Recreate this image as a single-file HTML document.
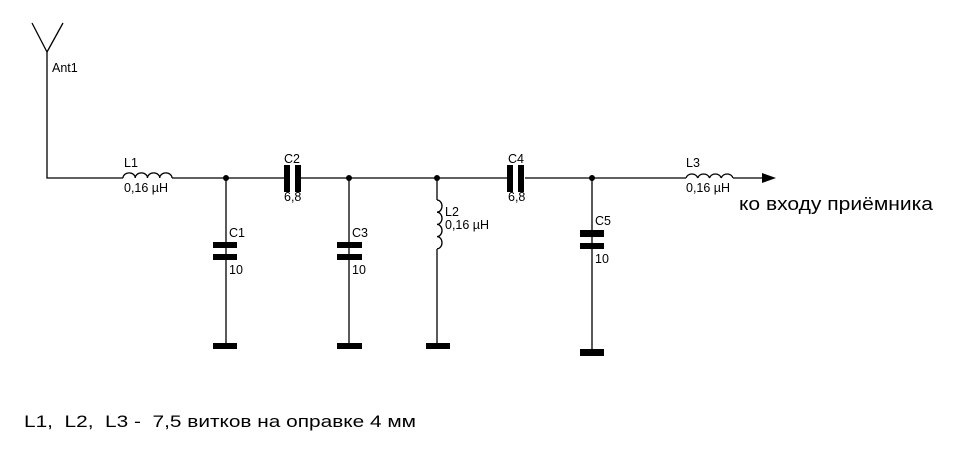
<!DOCTYPE html>
<html><head><meta charset="utf-8"><style>
html,body{margin:0;padding:0;background:#fff;}
svg{display:block;}
text{font-family:"Liberation Sans",Arial,sans-serif;fill:#000;}
</style></head><body>
<svg width="955" height="455" viewBox="0 0 955 455" xmlns="http://www.w3.org/2000/svg">
<g stroke="#000" stroke-width="1.3" fill="none">
<line x1="32" y1="23" x2="47" y2="52"/>
<line x1="63" y1="23" x2="47" y2="52"/>
<polyline points="47,52 47,178 123,178"/>
<path d="M123,178 a6,5 0 0 1 12.25,0 a6,5 0 0 1 12.25,0 a6,5 0 0 1 12.25,0 a6,5 0 0 1 12.25,0"/>
<line x1="172" y1="178" x2="284" y2="178"/>
<line x1="301" y1="178" x2="507" y2="178"/>
<line x1="525" y1="178" x2="686" y2="178"/>
<path d="M686,178 a6,5 0 0 1 11.75,0 a6,5 0 0 1 11.75,0 a6,5 0 0 1 11.75,0 a6,5 0 0 1 11.75,0"/>
<line x1="733" y1="178" x2="764" y2="178"/>
<line x1="226" y1="178" x2="226" y2="345"/>
<line x1="349" y1="178" x2="349" y2="345"/>
<line x1="592" y1="178" x2="592" y2="352"/>
<line x1="437" y1="178" x2="437" y2="200"/>
<path d="M437,200 a5,6.1 0 0 1 0,12.2 a5,6.1 0 0 1 0,12.2 a5,6.1 0 0 1 0,12.2 a5,6.1 0 0 1 0,12.2"/>
<line x1="437" y1="249" x2="437" y2="345"/>
</g>
<g fill="#000">
<polygon points="762,173 776,178 762,183"/>
<circle cx="226" cy="178" r="3"/>
<circle cx="349" cy="178" r="3"/>
<circle cx="437" cy="178" r="3"/>
<circle cx="592" cy="178" r="3"/>
<rect x="284" y="165" width="6" height="27"/>
<rect x="295" y="165" width="6" height="27"/>
<rect x="507" y="165" width="6" height="27"/>
<rect x="518" y="165" width="6" height="27"/>
<rect x="213" y="242" width="24" height="6"/>
<rect x="213" y="254" width="24" height="6"/>
<rect x="337" y="242" width="25" height="6"/>
<rect x="337" y="254" width="25" height="6"/>
<rect x="580" y="230" width="24" height="7"/>
<rect x="580" y="243" width="24" height="6"/>
<rect x="213" y="343" width="24" height="6"/>
<rect x="337" y="343" width="25" height="6"/>
<rect x="426" y="343" width="24" height="6"/>
<rect x="580" y="349" width="24" height="7"/>
</g>
<g font-size="12.5">
<text x="52" y="72">Ant1</text>
<text x="124" y="167">L1</text>
<text x="124" y="192">0,16 µH</text>
<text x="284" y="163">C2</text>
<text x="284" y="201">6,8</text>
<text x="229" y="237">C1</text>
<text x="229" y="274">10</text>
<text x="352" y="237">C3</text>
<text x="352" y="274">10</text>
<text x="445" y="216">L2</text>
<text x="445" y="229">0,16 µH</text>
<text x="508" y="163">C4</text>
<text x="508" y="201">6,8</text>
<text x="595" y="225">C5</text>
<text x="595" y="263">10</text>
<text x="686" y="167">L3</text>
<text x="686" y="192">0,16 µH</text>
</g>
<text x="739" y="210" font-size="18" textLength="194" lengthAdjust="spacingAndGlyphs">ко входу приёмника</text>
<text x="24" y="427" font-size="17" textLength="392" lengthAdjust="spacingAndGlyphs" xml:space="preserve">L1,  L2,  L3 -  7,5 витков на оправке 4 мм</text>
</svg>
</body></html>
